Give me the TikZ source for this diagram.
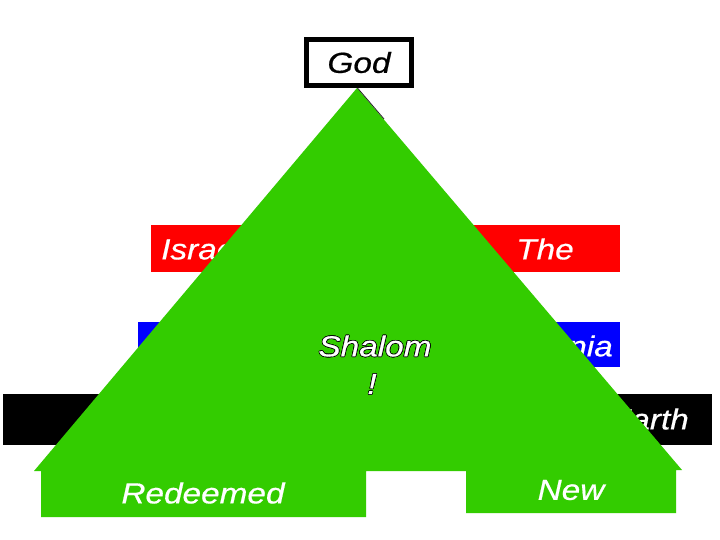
\documentclass[tikz,border=0pt]{standalone}
\usepackage{fontspec}
\setmainfont{Liberation Sans}[FakeStretch=1.15, ItalicFeatures={FakeBold=0.6}]
\definecolor{tgreen}{RGB}{51,204,0}
\newcommand\outl[1]{\leavevmode
  \rlap{\kern-0.7pt\textcolor{black}{#1}}%
  \rlap{\kern0.7pt\textcolor{black}{#1}}%
  \rlap{\raisebox{0.7pt}{\textcolor{black}{#1}}}%
  \rlap{\raisebox{-0.7pt}{\textcolor{black}{#1}}}%
  \rlap{\kern-0.5pt\raisebox{0.5pt}{\textcolor{black}{#1}}}%
  \rlap{\kern0.5pt\raisebox{0.5pt}{\textcolor{black}{#1}}}%
  \rlap{\kern-0.5pt\raisebox{-0.5pt}{\textcolor{black}{#1}}}%
  \rlap{\kern0.5pt\raisebox{-0.5pt}{\textcolor{black}{#1}}}%
  \textcolor{white}{#1}}
\begin{document}
\begin{tikzpicture}[x=1pt,y=-1pt,
  lbl/.style={font=\fontsize{29}{31}\selectfont\itshape, text=white, inner sep=0pt},
  bar/.style={draw=none, inner sep=0pt, outer sep=0pt, anchor=north west},
]
\useasboundingbox (0,0) rectangle (720,540);
\fill[white] (0,0) rectangle (720,540);
% God box
\node[draw=black, line width=5pt, minimum width=105pt, minimum height=46pt, inner sep=0pt,
      font=\fontsize{29}{31}\selectfont\itshape, text=black] (god) at (359,62.5) {God};
% bars
\node[bar, fill=red, minimum width=469pt, minimum height=47pt] (redbar) at (151,225) {};
\node[bar, fill=blue, minimum width=482pt, minimum height=45pt] (bluebar) at (138,322) {};
\node[bar, fill=black, minimum width=709pt, minimum height=51pt] (blackbar) at (3,394) {};
% bar texts
\node[lbl, anchor=west] (israel) at (161,249) {Israel};
\node[lbl] (the) at (545,249) {The};
\node[lbl, anchor=east] (koin) at (613,346) {Koinonia};
\node[lbl, anchor=east] (earth) at (689,419) {Earth};
% green triangle with base boxes
\fill[tgreen] (357,88) -- (682,470) -- (676,470) -- (676,513) -- (466,513) -- (466,471)
  -- (366,471) -- (366,517) -- (41,517) -- (41,471) -- (34,471) -- cycle;
\draw[black!85, line width=0.8pt] (357.5,88) -- (384,119);
% texts on green
\node[lbl] (shalom) at (375,346) {\outl{Shalom}};
\node[lbl] (excl) at (372,384) {\outl{!}};
\node[lbl] (redeemed) at (203,493) {Redeemed};
\node[lbl] (new) at (571,490) {New};
\end{tikzpicture}
\end{document}
